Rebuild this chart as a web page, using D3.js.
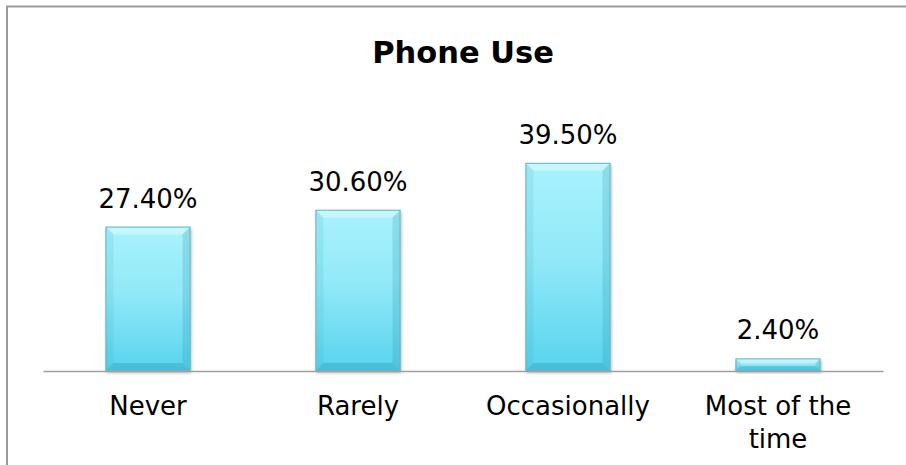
<!DOCTYPE html>
<html>
<head>
<meta charset="utf-8">
<script src="https://cdn.jsdelivr.net/npm/d3@7"></script>
<style>
  html, body { margin: 0; padding: 0; background: #fff; }
  svg { display: block; font-family: "DejaVu Sans", Verdana, sans-serif; }
</style>
</head>
<body>
<svg id="chart" width="906" height="465"></svg>
<script>
// Phone use survey: share of respondents per frequency
const categories = ["Never", "Rarely", "Occasionally", "Most of the time"];
const shares = [27.4, 30.6, 39.5, 2.4];
const valueLabels = ["27.40%", "30.60%", "39.50%", "2.40%"];
const chartTitle = "Phone Use";

const svg = d3.select("#chart");
const W = 906, H = 465;

// chart frame (only the top and left edges fall inside the view)
svg.append("path")
  .attr("d", `M7,${H + 5}V6.5H${W + 5}`)
  .attr("fill", "none")
  .attr("stroke", "#9a9a9a")
  .attr("stroke-width", 2);

// scales
const x = d3.scaleBand()
  .domain(categories)
  .range([43, 883])
  .paddingInner(0.595)
  .paddingOuter(0.2975);

const y = d3.scaleLinear()
  .domain([0, 45])
  .range([371, 371 - 45 * 5.27]);

// title
svg.append("text")
  .attr("x", 463)
  .attr("y", 63)
  .attr("text-anchor", "middle")
  .attr("font-size", 30.5)
  .attr("font-weight", "bold")
  .attr("fill", "#000")
  .text(chartTitle);

// bar fill and bevel definitions
const defs = svg.append("defs");
const grad = defs.append("linearGradient")
  .attr("id", "barFill")
  .attr("x1", 0).attr("y1", 0).attr("x2", 0).attr("y2", 1);
grad.append("stop").attr("offset", "0%").attr("stop-color", "#a9f2fd");
grad.append("stop").attr("offset", "45%").attr("stop-color", "#92e9f8");
grad.append("stop").attr("offset", "100%").attr("stop-color", "#58d3ee");

const shadow = defs.append("filter")
  .attr("id", "barShadow")
  .attr("x", "-20%").attr("y", "-20%").attr("width", "140%").attr("height", "140%");
shadow.append("feDropShadow")
  .attr("dx", 1).attr("dy", 2).attr("stdDeviation", 1.6)
  .attr("flood-color", "#000").attr("flood-opacity", 0.28);

const bars = svg.append("g").selectAll("g.bar")
  .data(categories.map((c, i) => ({ c, v: shares[i], label: valueLabels[i] })))
  .join("g")
  .attr("class", "bar");

bars.each(function(d) {
  const g = d3.select(this);
  const x0 = x(d.c), w = x.bandwidth();
  const y0 = y(d.v), y1 = y(0);
  const h = y1 - y0;
  const b = Math.min(8, h / 2.5); // bevel depth

  g.append("rect")
    .attr("x", x0).attr("y", y0)
    .attr("width", w).attr("height", h)
    .attr("fill", "url(#barFill)")
    .attr("filter", "url(#barShadow)");

  // top bevel (highlight)
  g.append("path")
    .attr("d", `M${x0},${y0}H${x0 + w}L${x0 + w - b},${y0 + b}H${x0 + b}Z`)
    .attr("fill", "#ffffff").attr("fill-opacity", 0.35);
  // left bevel
  g.append("path")
    .attr("d", `M${x0},${y0}L${x0 + b},${y0 + b}V${y1 - b}L${x0},${y1}Z`)
    .attr("fill", "#2a9fb8").attr("fill-opacity", 0.12);
  // right bevel
  g.append("path")
    .attr("d", `M${x0 + w},${y0}L${x0 + w - b},${y0 + b}V${y1 - b}L${x0 + w},${y1}Z`)
    .attr("fill", "#1f8aa3").attr("fill-opacity", 0.2);
  // bottom bevel (shade)
  g.append("path")
    .attr("d", `M${x0},${y1}L${x0 + b},${y1 - b}H${x0 + w - b}L${x0 + w},${y1}Z`)
    .attr("fill", "#1a8aa5").attr("fill-opacity", 0.28);

  // outline
  g.append("rect")
    .attr("x", x0 + 0.5).attr("y", y0 + 0.5)
    .attr("width", w - 1).attr("height", h - 1)
    .attr("fill", "none")
    .attr("stroke", "#6fb3c2").attr("stroke-width", 1);

  // value label
  g.append("text")
    .attr("x", x0 + w / 2)
    .attr("y", y0 - 19)
    .attr("text-anchor", "middle")
    .attr("font-size", 26)
    .attr("fill", "#000")
    .text(d.label);
});

// category axis
const axis = svg.append("g")
  .attr("transform", `translate(0,${y(0)})`)
  .call(d3.axisBottom(x).tickSize(0).tickPadding(0));

axis.select(".domain")
  .attr("stroke", "#a0a0a0")
  .attr("stroke-width", 1.6);

axis.selectAll(".tick text")
  .attr("font-size", 26)
  .attr("font-family", "\"DejaVu Sans\", Verdana, sans-serif")
  .attr("fill", "#000")
  .attr("dy", null)
  .attr("y", 0)
  .each(function(d) {
    const t = d3.select(this);
    const words = d.split(" ");
    t.text(null);
    const lines = [];
    let line = [];
    const probe = t.append("tspan");
    words.forEach(wd => {
      line.push(wd);
      probe.text(line.join(" "));
      if (probe.node().getComputedTextLength() > 190 && line.length > 1) {
        line.pop();
        lines.push(line.join(" "));
        line = [wd];
      }
    });
    lines.push(line.join(" "));
    probe.remove();
    lines.forEach((ln, i) => {
      t.append("tspan")
        .attr("x", 0)
        .attr("y", 44 + i * 33)
        .text(ln);
    });
  });
</script>
</body>
</html>
